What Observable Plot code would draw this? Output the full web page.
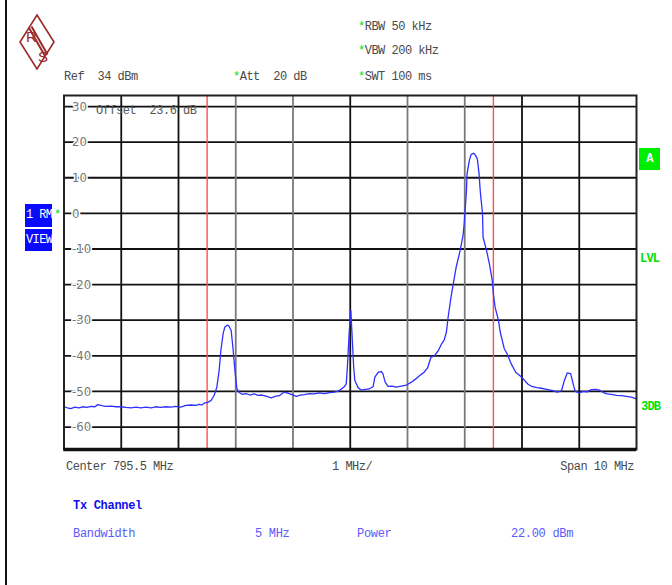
<!DOCTYPE html>
<html><head><meta charset="utf-8">
<script src="https://cdn.jsdelivr.net/npm/d3@7"></script>
<script src="https://cdn.jsdelivr.net/npm/@observablehq/plot@0.6"></script>
<style>
body{margin:0;background:#fff;}
#wrap{position:relative;width:672px;height:585px;overflow:hidden;font-family:"Liberation Mono","DejaVu Sans Mono",monospace;}
#wrap svg.plot{position:absolute;left:0;top:0;}
.t{position:absolute;font-size:12px;letter-spacing:-0.5px;color:#4a4a4a;white-space:pre;line-height:12px;}
.g{color:#00dd00;}
.box{position:absolute;background:#0a0aff;color:#fff;font-size:12px;letter-spacing:-0.6px;line-height:22px;overflow:hidden;white-space:pre;text-align:left;padding-left:1px;box-sizing:border-box;}
.gt{position:absolute;color:#00e000;font-size:12px;font-weight:bold;letter-spacing:-0.8px;line-height:12px;}
.bl{position:absolute;color:#5a5aff;font-size:12px;letter-spacing:-0.3px;white-space:pre;line-height:12px;}
</style></head>
<body>
<div id="wrap"></div>
<script>
// ---- data ----
const refLevel = 33.1;          // top of display (dBm)
const bottomLevel = -66.3;      // bottom of display (dBm)
const startMHz = 790.5;
const stopMHz = 800.5;
const levelTicks = [30, 20, 10, 0, -10, -20, -30, -40, -50, -60];
const gridMHzDark = [791.5, 792.5, 795.5, 798.5, 799.5];
const gridMHzLight = [793.5, 794.5, 796.5, 797.5];
const channelEdgesMHz = [793.0, 798.0];
const headerRight = ["RBW 50 kHz", "VBW 200 kHz", "SWT 100 ms"];
const footerLabels = ["Center 795.5 MHz", "1 MHz/", "Span 10 MHz"];
const tableTitle = "Tx Channel";
const tableRow = ["Bandwidth", "5 MHz", "Power", "22.00 dBm"];

const traceMHz = [790.51,790.56,790.62,790.69,790.76,790.83,790.90,790.97,791.04,791.09,791.16,791.23,791.32,791.41,791.49,791.58,791.67,791.76,791.84,791.93,
792.02,792.10,792.19,792.28,792.37,792.45,792.54,792.63,792.72,792.80,792.86,792.91,792.96,793.01,793.07,793.12,793.17,793.21,793.24,793.28,
793.31,793.35,793.38,793.42,793.45,793.49,793.52,793.56,793.61,793.68,793.75,793.82,793.89,793.96,794.03,794.12,794.19,794.26,794.34,794.41,
794.48,794.56,794.63,794.70,794.79,794.87,794.96,795.05,795.14,795.22,795.29,795.34,795.40,795.43,795.45,795.48,795.51,795.53,795.56,795.58,
795.64,795.69,795.76,795.83,795.90,795.93,795.99,796.04,796.07,796.11,796.16,796.23,796.30,796.39,796.48,796.57,796.65,796.74,796.79,796.85,
796.91,796.97,797.04,797.09,797.14,797.18,797.21,797.26,797.30,797.35,797.42,797.47,797.49,797.53,797.54,797.58,797.61,797.65,797.68,797.72,
797.75,797.77,797.81,797.82,797.88,797.93,797.98,798.00,798.03,798.09,798.12,798.19,798.24,798.31,798.39,798.46,798.53,798.60,798.67,798.76,
798.84,798.93,799.02,799.12,799.19,799.24,799.29,799.35,799.40,799.43,799.50,799.57,799.64,799.71,799.78,799.85,799.92,799.99,800.06,800.15,
800.24,800.32,800.41,800.50];
const traceDbm = [-54.3,-54.6,-54.8,-54.4,-54.6,-54.3,-54.5,-54.2,-54.3,-53.7,-54.0,-54.2,-54.1,-54.3,-54.3,-54.5,-54.6,-54.4,-54.6,-54.4,
-54.6,-54.3,-54.5,-54.3,-54.4,-54.2,-54.4,-53.9,-53.8,-53.9,-53.6,-53.8,-53.2,-53.1,-52.5,-51.2,-48.8,-44.1,-38.5,-33.7,
-31.9,-31.4,-31.6,-32.9,-37.6,-44.9,-49.2,-50.3,-50.8,-50.6,-51.0,-50.7,-51.1,-51.0,-51.3,-51.8,-51.4,-51.2,-50.2,-50.5,
-50.9,-51.4,-51.0,-50.9,-50.6,-50.7,-50.4,-50.6,-50.3,-50.2,-49.9,-49.4,-48.6,-47.9,-43.2,-33.8,-27.3,-33.7,-43.2,-46.9,
-49.0,-49.6,-49.4,-49.3,-48.6,-46.0,-44.6,-44.4,-45.0,-47.4,-48.6,-48.5,-48.8,-48.5,-48.2,-47.4,-46.4,-45.2,-44.6,-43.4,
-40.4,-40.0,-38.5,-36.8,-35.6,-33.3,-29.1,-23.5,-19.8,-15.1,-10.4,-6.2,-2.9,6.4,11.1,14.8,16.5,16.9,16.5,15.3,
11.1,6.4,-0.1,-6.7,-10.4,-14.1,-18.8,-22.6,-26.3,-30.1,-33.3,-38.0,-39.4,-42.2,-44.6,-45.5,-46.6,-47.9,-48.6,-48.9,
-49.1,-49.4,-49.7,-50.2,-49.8,-46.9,-44.8,-45.0,-48.3,-50.0,-50.4,-50.0,-50.1,-49.5,-49.4,-49.6,-50.3,-50.7,-50.8,-51.1,
-51.2,-51.4,-51.6,-52.1];

const trace = traceMHz.map((f, i) => ({f, dBm: traceDbm[i]}));

// ---- chart ----
const tickFont = '"Liberation Sans Narrow","DejaVu Sans Condensed","Liberation Sans",sans-serif';
const chart = Plot.plot({
  width: 672, height: 585,
  marginLeft: 63.5, marginRight: 36, marginTop: 95, marginBottom: 136,
  x: {domain: [startMHz, stopMHz], axis: null},
  y: {domain: [bottomLevel, refLevel], axis: null},
  marks: [
    Plot.ruleY(levelTicks, {stroke: "#111", strokeWidth: 1.8}),
    Plot.ruleX(gridMHzLight, {stroke: "#7a7a7a", strokeWidth: 1.8}),
    Plot.ruleX(gridMHzDark, {stroke: "#111", strokeWidth: 1.8}),
    Plot.ruleX(channelEdgesMHz, {stroke: "#ff5050", strokeWidth: 1.4}),
    Plot.text(levelTicks, {y: d => d, text: d => String(d), frameAnchor: "left", dx: 8, textAnchor: "start",
      fill: "#777", stroke: "white", strokeWidth: 3, fontSize: 13, fontFamily: tickFont}),
    Plot.line(trace, {x: "f", y: "dBm", stroke: "#2f2fff", strokeWidth: 1.3}),
    Plot.frame({stroke: "#222", strokeWidth: 2}),
    Plot.ruleY([bottomLevel], {stroke: "#111", strokeWidth: 3.5})
  ]
});
chart.classList.add("plot");
const wrap = document.getElementById("wrap");
wrap.appendChild(chart);

function add(html, cls, style) {
  const d = document.createElement("div");
  d.className = cls; d.innerHTML = html;
  Object.assign(d.style, style);
  wrap.appendChild(d);
  return d;
}
// outer left border
add("", "", {position: "absolute", left: "5px", top: "0", width: "2px", height: "585px", background: "#111"});
// logo
add(`<svg width="40" height="60" viewBox="0 0 40 60">
  <path d="M19,2 L36,29 L19,56 L2,29 Z" fill="none" stroke="#9b2a2a" stroke-width="1.6"/>
  <path d="M11,15 L27,43 M13.5,13.5 L29.5,41.5" stroke="#9b2a2a" stroke-width="2"/>
  <text x="8" y="29" font-family="Liberation Sans,sans-serif" font-size="15" fill="#9b2a2a">R</text>
  <text x="20" y="49" font-family="Liberation Sans,sans-serif" font-size="15" fill="#9b2a2a">S</text></svg>`,
  "", {position: "absolute", left: "18px", top: "13px", width: "40px", height: "60px"});
// header
headerRight.forEach((s, i) => add(`<span class="g">*</span>${s}`, "t", {left: "358px", top: [21, 45, 71][i] + "px"}));
add("Ref  34 dBm", "t", {left: "64px", top: "71px"});
add(`<span class="g">*</span>Att  20 dB`, "t", {left: "233px", top: "71px"});
add("Offset  23.6 dB", "t", {left: "96px", top: "105px", color: "#555"});
// left boxes
add("1 RM", "box", {left: "25px", top: "204px", width: "27px", height: "23px"});
add("VIEW", "box", {left: "25px", top: "229px", width: "27px", height: "22px"});
add("*", "t g", {left: "54px", top: "209px", fontSize: "12px"});
// right indicators
add("A", "box", {left: "639px", top: "148px", width: "21px", height: "22px", background: "#00ee00", textAlign: "center", fontWeight: "bold", paddingLeft: "0"});
add("LVL", "gt", {left: "640px", top: "253px"});
add("3DB", "gt", {left: "641px", top: "401px"});
// footer
add(footerLabels[0], "t", {left: "66px", top: "461px"});
add(footerLabels[1], "t", {left: "332px", top: "461px"});
add(footerLabels[2], "t", {right: "38px", top: "461px"});
add(tableTitle, "bl", {left: "73px", top: "500px", color: "#1010ee", fontWeight: "bold"});
[[tableRow[0], 73], [tableRow[1], 255], [tableRow[2], 357], [tableRow[3], 511]].forEach(([s, x]) =>
  add(s, "bl", {left: x + "px", top: "528px"}));
</script>
</body></html>
